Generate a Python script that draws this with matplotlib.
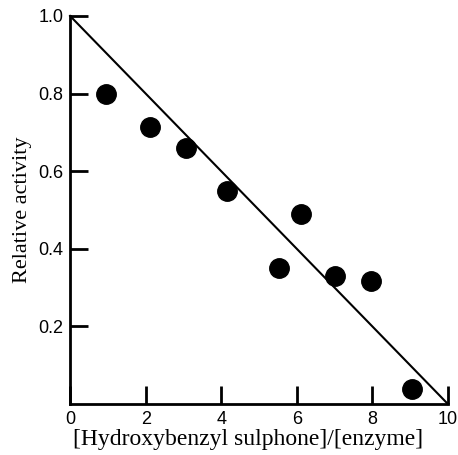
import matplotlib
matplotlib.use("Agg")
import matplotlib.pyplot as plt

ratio = [0.95, 2.12, 3.07, 4.15, 5.53, 6.11, 7.01, 7.96, 9.05]
activity = [0.80, 0.714, 0.66, 0.55, 0.35, 0.49, 0.33, 0.317, 0.04]
fit_x = [0, 10]
fit_y = [1.0, 0.0]
xticks = [0, 2, 4, 6, 8, 10]
yticks = [0.2, 0.4, 0.6, 0.8, 1.0]

fig = plt.figure(figsize=(4.58, 4.55), dpi=100)
ax = fig.add_axes([0.153, 0.112, 0.825, 0.853])
ax.plot(fit_x, fit_y, color="black", lw=1.5, clip_on=False)
ax.plot(ratio, activity, "o", color="black", markersize=14, clip_on=False)
ax.set_xlim(0, 10)
ax.set_ylim(0, 1.0)
for s in ["top", "right"]:
    ax.spines[s].set_visible(False)
for s in ["left", "bottom"]:
    ax.spines[s].set_linewidth(2)
ax.set_xticks(xticks)
ax.set_yticks(yticks)
ax.set_xticklabels([str(t) for t in xticks], family="Liberation Sans", fontsize=13)
ax.set_yticklabels([f"{t:.1f}" for t in yticks], family="Liberation Sans", fontsize=13)
ax.tick_params(direction="in", length=13, width=2, pad=5)
ax.set_xlabel("[Hydroxybenzyl sulphone]/[enzyme]", family="Liberation Serif", fontsize=17)
ax.xaxis.set_label_coords(0.472, -0.065)
ax.set_ylabel("Relative activity", family="Liberation Serif", fontsize=16, labelpad=4)
fig.savefig("out.png", dpi=100)
